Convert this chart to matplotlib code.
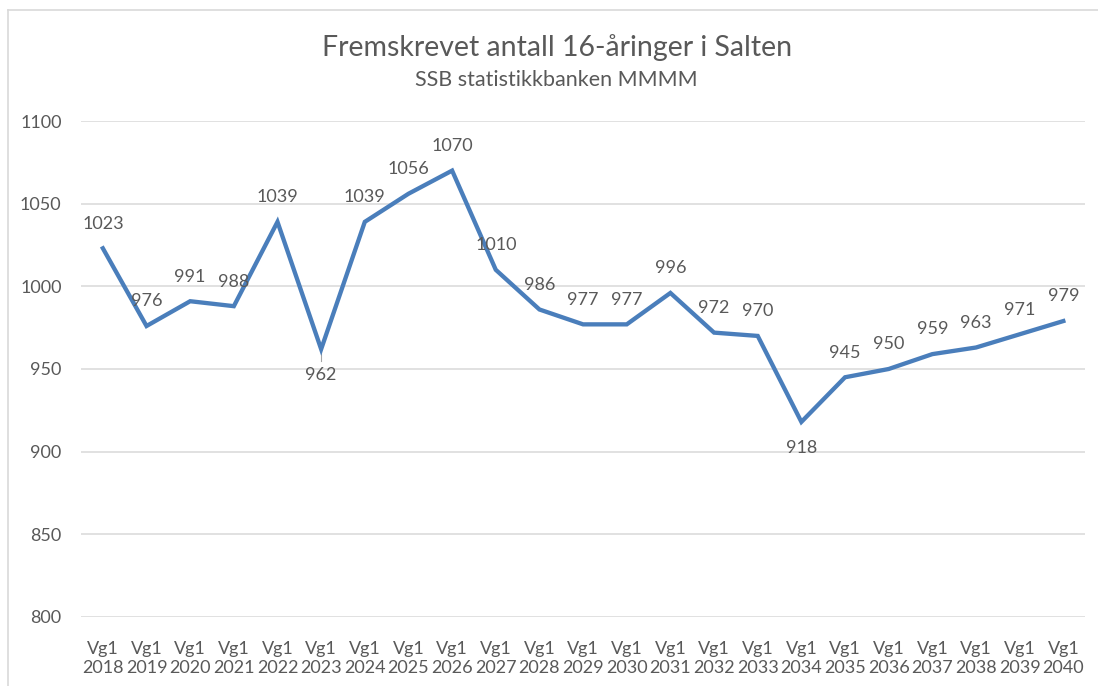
import matplotlib.pyplot as plt
from matplotlib.lines import Line2D

years = list(range(2018, 2041))
values = [1023, 976, 991, 988, 1039, 962, 1039, 1056, 1070, 1010, 986, 977,
          977, 996, 972, 970, 918, 945, 950, 959, 963, 971, 979]
labels = ["Vg1\n%d" % y for y in years]
below_idx = [5, 16]  # labels Excel put under the point (962, 918)

plt.rcParams['font.family'] = ['Lato', 'DejaVu Sans']
grey = '#595959'

fig = plt.figure(figsize=(10.98, 6.86), dpi=100)
ax = fig.add_axes([0.0738, 0.1006, 0.9145, 0.723])

x = list(range(len(values)))
ax.plot(x, values, color='#4a7ebb', linewidth=3.1, solid_joinstyle='miter', zorder=3)

for i, v in enumerate(values):
    if i in below_idx:
        ax.annotate(str(v), (i, v), xytext=(0, -13), textcoords='offset points',
                    ha='center', va='top', fontsize=13, color=grey)
    else:
        ax.annotate(str(v), (i, v), xytext=(0, 12), textcoords='offset points',
                    ha='center', va='bottom', fontsize=13, color=grey)

# small leader line under 962
ax.plot([5, 5], [960, 955], color='#a6a6a6', linewidth=0.8, zorder=2)

ax.set_xlim(-0.5, len(values) - 0.5)
ax.set_ylim(800, 1100)
ax.set_yticks(range(800, 1101, 50))
ax.set_xticks(x)
ax.set_xticklabels(labels, linespacing=1.25)
ax.tick_params(axis='x', length=0, colors=grey, labelsize=13, pad=17)
ax.tick_params(axis='y', length=0, colors=grey, labelsize=13, pad=14)
ax.grid(axis='y', color='#d9d9d9', linewidth=1.1)
ax.set_axisbelow(True)
for s in ax.spines.values():
    s.set_visible(False)

fig.text(0.507, 0.931, "Fremskrevet antall 16-åringer i Salten", ha='center', va='center',
         fontsize=20.5, color=grey)
fig.text(0.507, 0.883, "SSB statistikkbanken MMMM", ha='center', va='center',
         fontsize=15.5, color=grey)

# chart frame (only top and left edges visible in the crop)
fig.add_artist(Line2D([0.007, 1.0], [0.985, 0.985], color='#d9d9d9', linewidth=1.2))
fig.add_artist(Line2D([0.007, 0.007], [0.0, 0.985], color='#d9d9d9', linewidth=1.2))

fig.savefig('out.png', dpi=100)
